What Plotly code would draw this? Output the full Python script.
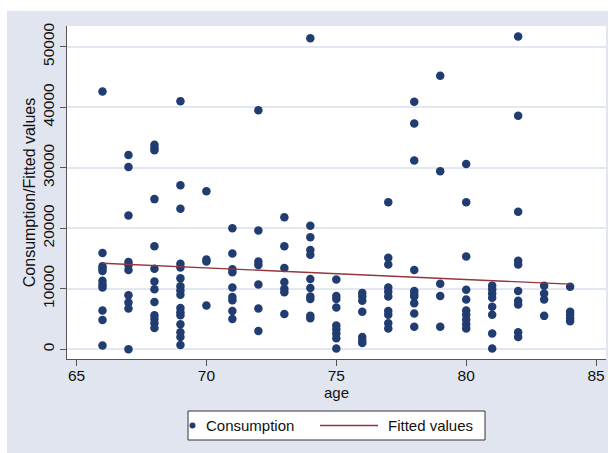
import plotly.graph_objects as go

# Household consumption by age of head (scatter) with linear fit
age = [
    66, 66, 66, 66, 66, 66, 66, 66, 66, 66, 66,
    67, 67, 67, 67, 67, 67, 67, 67, 67, 67,
    68, 68, 68, 68, 68, 68, 68, 68, 68, 68, 68, 68, 68,
    69, 69, 69, 69, 69, 69, 69, 69, 69, 69, 69, 69, 69, 69, 69, 69,
    70, 70, 70, 70,
    71, 71, 71, 71, 71, 71, 71, 71, 71,
    72, 72, 72, 72, 72, 72, 72,
    73, 73, 73, 73, 73, 73, 73,
    74, 74, 74, 74, 74, 74, 74, 74, 74, 74, 74,
    75, 75, 75, 75, 75, 75, 75, 75, 75,
    76, 76, 76, 76, 76, 76, 76,
    77, 77, 77, 77, 77, 77, 77, 77, 77, 77,
    78, 78, 78, 78, 78, 78, 78, 78, 78, 78,
    79, 79, 79, 79, 79,
    80, 80, 80, 80, 80, 80, 80, 80, 80, 80,
    81, 81, 81, 81, 81, 81, 81, 81,
    82, 82, 82, 82, 82, 82, 82, 82, 82, 82,
    83, 83, 83, 83,
    84, 84, 84, 84, 84,
]
consumption = [
    42600, 15900, 13700, 13300, 12900, 11300, 10700, 10200, 6400, 4800, 600,
    32100, 30100, 22100, 14400, 13900, 13100, 8900, 7700, 6700, 0,
    33800, 33300, 32900, 24800, 17000, 13300, 11200, 9900, 7800, 5600, 5000, 4300, 3500,
    41000, 27100, 23200, 14100, 13500, 11700, 10400, 9700, 9000, 6800, 6100, 5600, 4100, 2800, 2000, 700,
    26100, 14800, 14500, 7200,
    20000, 15800, 13200, 12700, 10200, 8600, 8100, 6300, 5000,
    39500, 19600, 14500, 13900, 10700, 6700, 3000,
    21800, 17000, 13400, 11100, 10000, 9400, 5800,
    51400, 20400, 18500, 16400, 15600, 11600, 10100, 8700, 8300, 5500, 5100,
    11500, 8800, 8300, 6900, 3900, 3300, 2600, 1800, 100,
    9300, 8700, 8000, 6200, 2000, 1400, 1000,
    24300, 15100, 14000, 10200, 9500, 8700, 6300, 5700, 4300, 3400,
    40900, 37300, 31200, 13100, 9600, 9100, 8700, 7600, 5900, 3700,
    45200, 29400, 10800, 8800, 3700,
    30600, 24300, 15300, 9800, 8200, 6400, 5700, 4900, 4100, 3400,
    10500, 9900, 9200, 8500, 7000, 5700, 2600, 100,
    51700, 38600, 22700, 14600, 14000, 9600, 8000, 7400, 2800, 2000,
    10500, 9200, 8200, 5500,
    10300, 6200, 5700, 5100, 4600,
]

# Linear fit, evaluated at the youngest and oldest ages
fit_age = [66, 84]
fit_values = [14200, 10750]

x_ticks = [65, 70, 75, 80, 85]
y_ticks = [0, 10000, 20000, 30000, 40000, 50000]

NAVY = "#213C70"
MAROON = "#93363D"
PANEL = "#E1E5EF"
GRID = "#E2E7F1"
AXIS = "#555555"
FONT = "Liberation Sans, Arial, Helvetica, sans-serif"

fig = go.Figure()
fig.add_trace(go.Scatter(
    x=age, y=consumption, mode="markers", name="Consumption",
    marker=dict(color=NAVY, size=8.5, line=dict(width=0)),
    showlegend=False,
))
fig.add_trace(go.Scatter(
    x=fit_age, y=fit_values, mode="lines", name="Fitted values",
    line=dict(color=MAROON, width=1.4),
    showlegend=False,
))

# Plot geometry in pixels (used for the panel and the legend box)
L, R, T, B = 67, 606, 26, 359
PW, PH = R - L, B - T


def px(x):
    return (x - L) / PW


def py(y):
    return (B - y) / PH


shapes = [
    # light graph-region panel
    dict(type="rect", xref="paper", yref="paper", layer="below",
         x0=px(7), x1=px(608), y0=py(453), y1=py(11),
         fillcolor=PANEL, line=dict(width=0)),
    # white plot region
    dict(type="rect", xref="paper", yref="paper", layer="below",
         x0=0, x1=1, y0=0, y1=1, fillcolor="white", line=dict(width=0)),
    # legend box
    dict(type="rect", xref="paper", yref="paper",
         x0=px(188), x1=px(485), y0=py(440), y1=py(411),
         fillcolor="white", line=dict(color="#333333", width=1)),
    # legend key: marker
    dict(type="circle", xref="paper", yref="paper",
         xsizemode="pixel", ysizemode="pixel",
         xanchor=px(192.5), yanchor=py(425.5),
         x0=-3, x1=3, y0=-3, y1=3,
         fillcolor=NAVY, line=dict(width=0)),
    # legend key: line
    dict(type="line", xref="paper", yref="paper",
         x0=px(320), x1=px(378), y0=py(425.5), y1=py(425.5),
         line=dict(color=MAROON, width=1.4)),
]

annotations = [
    dict(text="Consumption", xref="paper", yref="paper",
         x=px(204), y=py(425.5), xanchor="left", yanchor="middle",
         showarrow=False, font=dict(family=FONT, size=15, color="#111111")),
    dict(text="Fitted values", xref="paper", yref="paper",
         x=px(386), y=py(425.5), xanchor="left", yanchor="middle",
         showarrow=False, font=dict(family=FONT, size=15, color="#111111")),
]

fig.update_layout(
    width=608, height=453,
    margin=dict(l=L, r=608 - R, t=T, b=453 - B, pad=0),
    paper_bgcolor="white",
    plot_bgcolor="white",
    font=dict(family=FONT, size=15, color="#111111"),
    showlegend=False,
    shapes=shapes,
    annotations=annotations,
)

fig.update_xaxes(
    range=[64.634, 85.381],
    tickvals=x_ticks, ticktext=[str(v) for v in x_ticks],
    showgrid=False, zeroline=False,
    showline=True, linecolor=AXIS, linewidth=1.3,
    ticks="outside", ticklen=6, tickwidth=1, tickcolor=AXIS,
    tickfont=dict(size=15.5), ticklabelstandoff=-4,
    title=dict(text="age", font=dict(size=15), standoff=0),
)
fig.update_yaxes(
    range=[-1630, 53420],
    tickvals=y_ticks, ticktext=[str(v) for v in y_ticks],
    tickangle=-90,
    showgrid=True, gridcolor=GRID, gridwidth=1.6,
    zeroline=False,
    showline=True, linecolor=AXIS, linewidth=1.3,
    ticks="outside", ticklen=6, tickwidth=1, tickcolor=AXIS,
    tickfont=dict(size=15.5),
    title=dict(text="Consumption/Fitted values", font=dict(size=16), standoff=0),
)

fig.write_html("out.html")
